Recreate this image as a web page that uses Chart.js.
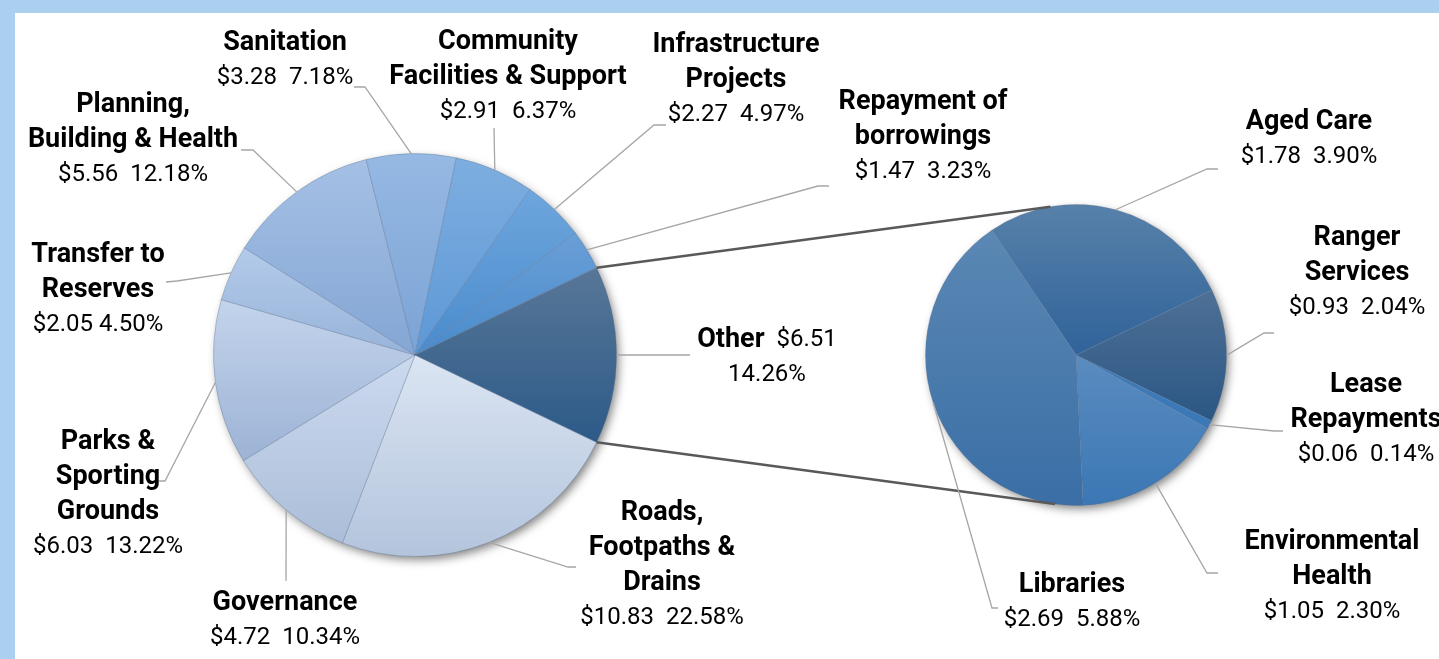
<!DOCTYPE html>
<html>
<head>
<meta charset="utf-8">
<script src="https://cdn.jsdelivr.net/npm/chart.js@4.4.1/dist/chart.umd.min.js"></script>
<style>
  html, body { margin: 0; padding: 0; background: #abcfee; overflow: hidden; }
  #wrap { position: relative; width: 1439px; height: 659px; }
  #panel { position: absolute; left: 15px; top: 13px; width: 1424px; height: 646px; background: #fff; }
  canvas { position: absolute; left: 0; top: 0; }
</style>
</head>
<body>
<div id="wrap">
  <div id="panel"></div>
  <canvas id="mainPie" width="1439" height="659" style="width:1439px;height:659px"></canvas>
  <canvas id="subPie" width="1439" height="659" style="width:1439px;height:659px"></canvas>
</div>
<script>
// main pie, clockwise from the right-hand "Other" slice
const mainNames = [
  ['Roads,', 'Footpaths &', 'Drains'],
  ['Governance'],
  ['Parks &', 'Sporting', 'Grounds'],
  ['Transfer to', 'Reserves'],
  ['Planning,', 'Building & Health'],
  ['Sanitation'],
  ['Community', 'Facilities & Support'],
  ['Infrastructure', 'Projects'],
  ['Repayment of', 'borrowings'],
  ['Other']
];
const mainValues = [10.83, 4.72, 6.03, 2.05, 5.56, 3.28, 2.91, 2.27, 1.47, 6.51];
const mainPercents = ['22.58%', '10.34%', '13.22%', '4.50%', '12.18%', '7.18%', '6.37%', '4.97%', '3.23%', '14.26%'];

// secondary pie, breakdown of "Other"
const subNames = [
  ['Aged Care'],
  ['Ranger', 'Services'],
  ['Lease', 'Repayments'],
  ['Environmental', 'Health'],
  ['Libraries']
];
const subValues = [1.78, 0.93, 0.06, 1.05, 2.69];
const subPercents = ['3.90%', '2.04%', '0.14%', '2.30%', '5.88%'];

// colours, top -> bottom of each slice
const mainTop = ['#dbe5f3', '#ccdaef', '#c3d4ec', '#b3cbea', '#a5c0e5', '#96b9e3', '#7eaee0', '#6ea6dd', '#6a9fd7', '#587797'];
const mainBottom = ['#b3c4dc', '#abbdd8', '#9db3d5', '#98b3da', '#84a6d4', '#7ba3d5', '#5c98d6', '#4a8bcc', '#4a8bcc', '#2c5a88'];
const subTop = ['#5781a9', '#4e7096', '#3c7cbb', '#5a8cc0', '#5b88b4'];
const subBottom = ['#30639a', '#2b5784', '#3a78b7', '#3b77b4', '#3a6ea5'];

// label placement (text centre of first line, leader elbows)
const mainLayout = [
  { x: 662, y: 511, leader: [[568, 567], [576, 567]] },
  { x: 285, y: 601, leader: [[286, 581]] },
  { x: 108, y: 440, leader: [[165, 481], [159, 481]] },
  { x: 98, y: 253, leader: [[177, 281], [166, 282]], gap: ' ' },
  { x: 133, y: 103, leader: [[253, 150], [241, 150]] },
  { x: 285, y: 41, leader: [[365, 87], [354, 87]] },
  { x: 508, y: 40, leader: [[494, 128]] },
  { x: 736, y: 43, leader: [[654, 125], [666, 125]] },
  { x: 923, y: 100, leader: [[818, 186], [829, 186]] },
  { x: 767, y: 338, leader: [[690, 355]], inline: true }
];
const subLayout = [
  { x: 1309, y: 120, leader: [[1207, 169], [1218, 169]] },
  { x: 1357, y: 236, leader: [[1264, 333], [1274, 333]] },
  { x: 1366, y: 383, leader: [[1274, 431], [1283, 431]] },
  { x: 1332, y: 540, leader: [[1207, 573], [1218, 573]] },
  { x: 1072, y: 583, leader: [[992, 608], [998, 608]] }
];

const BOLD = 'bold 27px Roboto';
const NORMAL = '24px Roboto';
const LINE = 35;
const TEXT_DY = 2;

function sliceGradient(tops, bottoms, rotationDeg) {
  return function (ctx) {
    const chart = ctx.chart;
    const area = chart.chartArea;
    const i = ctx.dataIndex;
    if (!area) return tops[i];
    const cx = (area.left + area.right) / 2;
    const cy = (area.top + area.bottom) / 2;
    const r = Math.min(area.right - area.left, area.bottom - area.top) / 2;
    const vals = ctx.dataset.data;
    const total = vals.reduce((a, b) => a + b, 0);
    let a0 = (rotationDeg - 90) * Math.PI / 180;
    for (let k = 0; k < i; k++) a0 += vals[k] / total * Math.PI * 2;
    const a1 = a0 + vals[i] / total * Math.PI * 2;
    const ys = [cy, cy + Math.sin(a0) * r, cy + Math.sin(a1) * r];
    for (let k = -4; k <= 4; k++) {
      const q = Math.PI / 2 + k * Math.PI;
      if (q > a0 && q < a1) ys.push(cy + Math.sin(q) * r);
    }
    const g = chart.ctx.createLinearGradient(0, Math.min(...ys), 0, Math.max(...ys));
    g.addColorStop(0, tops[i]);
    g.addColorStop(1, bottoms[i]);
    return g;
  };
}

const pieShadow = {
  id: 'pieShadow',
  beforeDatasetsDraw(chart) {
    const arc = chart.getDatasetMeta(0).data[0];
    if (!arc) return;
    const ctx = chart.ctx;
    ctx.save();
    ctx.shadowColor = 'rgba(0,0,0,0.5)';
    ctx.shadowBlur = 10;
    ctx.shadowOffsetX = 3;
    ctx.shadowOffsetY = 4;
    ctx.fillStyle = '#fff';
    ctx.beginPath();
    ctx.arc(arc.x, arc.y, arc.outerRadius - 1, 0, Math.PI * 2);
    ctx.fill();
    ctx.restore();
  }
};

function labelPlugin(names, values, percents, layout) {
  return {
    id: 'sliceLabels',
    afterDatasetsDraw(chart) {
      const ctx = chart.ctx;
      const arcs = chart.getDatasetMeta(0).data;
      ctx.save();
      arcs.forEach((arc, i) => {
        const L = layout[i];
        const mid = (arc.startAngle + arc.endAngle) / 2;
        ctx.strokeStyle = '#a6a6a6';
        ctx.lineWidth = 1.3;
        ctx.beginPath();
        ctx.moveTo(arc.x + Math.cos(mid) * arc.outerRadius, arc.y + Math.sin(mid) * arc.outerRadius);
        L.leader.forEach(p => ctx.lineTo(p[0], p[1]));
        ctx.stroke();

        ctx.fillStyle = '#000';
        ctx.textBaseline = 'middle';
        const y0 = L.y + TEXT_DY;
        const money = '$' + values[i].toFixed(2);
        if (L.inline) {
          const name = names[i][0];
          const rest = '  ' + money;
          ctx.font = BOLD;
          const w1 = ctx.measureText(name).width;
          ctx.font = NORMAL;
          const w2 = ctx.measureText(rest).width;
          const left = L.x - (w1 + w2) / 2;
          ctx.textAlign = 'left';
          ctx.font = BOLD;
          ctx.fillText(name, left, y0);
          ctx.font = NORMAL;
          ctx.fillText(rest, left + w1, y0);
          ctx.textAlign = 'center';
          ctx.fillText(percents[i], L.x, y0 + LINE);
        } else {
          ctx.textAlign = 'center';
          ctx.font = BOLD;
          names[i].forEach((t, k) => ctx.fillText(t, L.x, y0 + k * LINE));
          ctx.font = NORMAL;
          ctx.fillText(money + (L.gap || '  ') + percents[i], L.x, y0 + names[i].length * LINE);
        }
      });
      ctx.restore();
    }
  };
}

const mainTotal = mainValues.reduce((a, b) => a + b, 0);
// centre the "Other" slice on the right-hand side
const mainRotation = 90 + (mainValues[mainValues.length - 1] / mainTotal) * 180;
const subRotation = -34;

const mainChart = new Chart(document.getElementById('mainPie'), {
  type: 'pie',
  data: {
    labels: mainNames.map(n => n.join(' ')),
    datasets: [{
      data: mainValues,
      backgroundColor: sliceGradient(mainTop, mainBottom, mainRotation),
      borderColor: 'rgba(90,110,140,0.35)',
      borderWidth: 1
    }]
  },
  options: {
    responsive: false,
    animation: false,
    rotation: mainRotation,
    layout: { padding: { left: 213, right: 822, top: 153, bottom: 102 } },
    plugins: { legend: { display: false }, tooltip: { enabled: false } }
  },
  plugins: [pieShadow, labelPlugin(mainNames, mainValues, mainPercents, mainLayout)]
});

const connectors = {
  id: 'connectors',
  afterDatasetsDraw(chart) {
    const other = mainChart.getDatasetMeta(0).data[mainValues.length - 1];
    const sub = chart.getDatasetMeta(0).data[0];
    if (!other || !sub) return;
    const ctx = chart.ctx;
    const ends = [-99.8, 98].map(d => d * Math.PI / 180);
    const starts = [other.startAngle, other.endAngle];
    ctx.save();
    ctx.strokeStyle = '#595959';
    ctx.lineWidth = 2.5;
    for (let k = 0; k < 2; k++) {
      ctx.beginPath();
      ctx.moveTo(other.x + Math.cos(starts[k]) * other.outerRadius, other.y + Math.sin(starts[k]) * other.outerRadius);
      ctx.lineTo(sub.x + Math.cos(ends[k]) * sub.outerRadius, sub.y + Math.sin(ends[k]) * sub.outerRadius);
      ctx.stroke();
    }
    ctx.restore();
  }
};

new Chart(document.getElementById('subPie'), {
  type: 'pie',
  data: {
    labels: subNames.map(n => n.join(' ')),
    datasets: [{
      data: subValues,
      backgroundColor: sliceGradient(subTop, subBottom, subRotation),
      borderColor: 'rgba(90,110,140,0.3)',
      borderWidth: 1
    }]
  },
  options: {
    responsive: false,
    animation: false,
    rotation: subRotation,
    layout: { padding: { left: 925, right: 212, top: 204, bottom: 153 } },
    plugins: { legend: { display: false }, tooltip: { enabled: false } }
  },
  plugins: [connectors, pieShadow, labelPlugin(subNames, subValues, subPercents, subLayout)]
});
</script>
</body>
</html>
